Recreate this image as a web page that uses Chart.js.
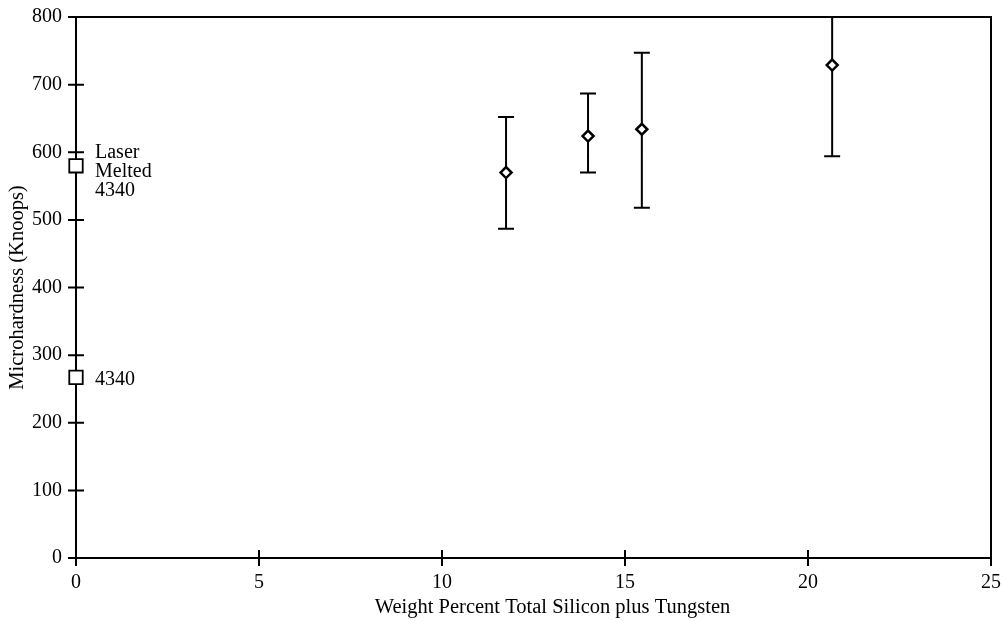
<!DOCTYPE html>
<html>
<head>
<meta charset="utf-8">
<script src="https://cdn.jsdelivr.net/npm/chart.js@4"></script>
<style>
  html, body { margin: 0; padding: 0; background: #fff; }
  #wrap { width: 1004px; height: 621px; }
</style>
</head>
<body>
<div id="wrap"><canvas id="Chart1"></canvas></div>
<script>
// measured alloys
const siW = [11.75, 13.99, 15.46, 20.66];
const hardness = [570, 624, 634, 729];
const errHigh = [652, 687, 747, 864];
const errLow = [487, 570, 518, 594];

// reference steels at x = 0
const refX = [0, 0];
const refY = [267, 580];
const refLabels = [["4340"], ["Laser", "Melted", "4340"]];

const xTicks = [0, 5, 10, 15, 20, 25];
const yTicks = [0, 100, 200, 300, 400, 500, 600, 700, 800];

const xTitle = 'Weight Percent Total Silicon plus Tungsten';

const FONT = "'Liberation Serif', 'Times New Roman', serif";

const noPad = s => { s.paddingTop = 0; s.paddingBottom = 0; s.paddingLeft = 0; s.paddingRight = 0; };

const frame = {
    id: 'frame',
    beforeDatasetsDraw(chart) {
        const ctx = chart.ctx, a = chart.chartArea;
        const xs = chart.scales.x, ys = chart.scales.y;
        ctx.save();
        ctx.strokeStyle = '#000';
        ctx.lineWidth = 2;
        ctx.strokeRect(a.left, a.top, a.right - a.left, a.bottom - a.top);
        ctx.beginPath();
        yTicks.forEach(v => {
            const y = ys.getPixelForValue(v);
            ctx.moveTo(a.left - 8, y);
            ctx.lineTo(v === 0 || v === 800 ? a.left : a.left + 8, y);
        });
        xTicks.forEach(v => {
            const x = xs.getPixelForValue(v);
            ctx.moveTo(x, a.bottom + 8);
            ctx.lineTo(x, v === 0 ? a.bottom : a.bottom - 8);
        });
        ctx.stroke();

        // error bars
        ctx.save();
        ctx.beginPath();
        ctx.rect(a.left, a.top, a.right - a.left, a.bottom - a.top);
        ctx.clip();
        ctx.beginPath();
        siW.forEach((v, i) => {
            const x = xs.getPixelForValue(v);
            const yh = ys.getPixelForValue(errHigh[i]);
            const yl = ys.getPixelForValue(errLow[i]);
            ctx.moveTo(x, yh); ctx.lineTo(x, yl);
            ctx.moveTo(x - 8, yh); ctx.lineTo(x + 8, yh);
            ctx.moveTo(x - 8, yl); ctx.lineTo(x + 8, yl);
        });
        ctx.stroke();
        ctx.restore();

        // reference labels
        ctx.fillStyle = '#000';
        ctx.font = '20px ' + FONT;
        ctx.textBaseline = 'middle';
        ctx.textAlign = 'left';
        refLabels.forEach((lines, i) => {
            const x = xs.getPixelForValue(refX[i]) + 19;
            const y0 = ys.getPixelForValue(refY[i]);
            const start = lines.length > 1 ? y0 - 13 : y0 + 2;
            lines.forEach((t, k) => ctx.fillText(t, x, start + k * 19));
        });

        // x axis title (sits a little right of centre in the original)
        ctx.font = '20.5px ' + FONT;
        ctx.textAlign = 'center';
        ctx.fillText(xTitle, (a.left + a.right) / 2 + 19, a.bottom + 50);
        ctx.restore();
    }
};

new Chart(document.getElementById('Chart1'), {
    type: 'scatter',
    data: {
        datasets: [{
            data: siW.map((v, i) => ({x: v, y: hardness[i]})),
            pointStyle: 'rectRot',
            pointRadius: 5.5,
            pointBorderWidth: 2.5,
            borderColor: '#000',
            backgroundColor: '#fff'
        }, {
            data: refX.map((v, i) => ({x: v, y: refY[i]})),
            pointStyle: 'rect',
            pointRadius: 9.5,
            pointBorderWidth: 1.8,
            borderColor: '#000',
            backgroundColor: '#fff',
            clip: false
        }]
    },
    plugins: [frame],
    options: {
        responsive: true,
        maintainAspectRatio: false,
        animation: false,
        layout: { padding: { top: 17, right: 13, left: 0, bottom: 0 } },
        plugins: {
            legend: { display: false },
            tooltip: { enabled: false }
        },
        scales: {
            x: {
                type: 'linear',
                min: 0,
                max: 25,
                afterBuildTicks: s => { s.ticks = xTicks.map(v => ({value: v})); },
                afterFit: s => { s.height = 63; noPad(s); },
                grid: { display: false },
                border: { display: false },
                ticks: { color: '#000', padding: 5, maxRotation: 0, font: { family: FONT, size: 20 } }
            },
            y: {
                min: 0,
                max: 800,
                afterBuildTicks: s => { s.ticks = yTicks.map(v => ({value: v})); },
                afterFit: s => { s.width = 76; noPad(s); },
                grid: { display: false },
                border: { display: false },
                ticks: { color: '#000', padding: 6, font: { family: FONT, size: 20 } },
                title: {
                    display: true,
                    text: 'Microhardness (Knoops)',
                    color: '#000',
                    padding: { top: 5, bottom: 0 },
                    font: { family: FONT, size: 20.5 }
                }
            }
        }
    }
});
</script>
</body>
</html>
